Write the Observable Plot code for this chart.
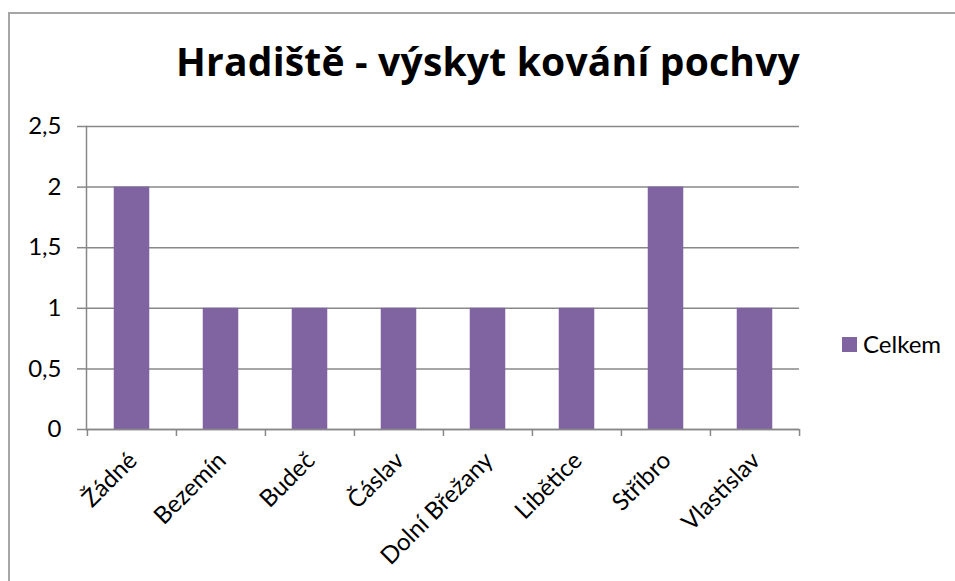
<!DOCTYPE html>
<html>
<head>
<meta charset="utf-8">
<script src="https://cdn.jsdelivr.net/npm/d3@7"></script>
<script src="https://cdn.jsdelivr.net/npm/@observablehq/plot@0.6"></script>
<style>
  html, body { margin: 0; padding: 0; background: #fff; }
  #wrap { position: relative; width: 955px; height: 581px; overflow: hidden; font-family: Lato, "Open Sans", sans-serif; }
  #border { position: absolute; left: 8px; top: 12px; right: -10px; bottom: -10px; border-left: 2px solid #a6a6a6; border-top: 2px solid #a6a6a6; }
  #title { position: absolute; left: 0; width: 976px; top: 41px; text-align: center; font-family: "Open Sans", sans-serif; font-size: 39px; font-weight: bold; line-height: 40px; color: #000; white-space: nowrap; letter-spacing: 0.2px; }
  #plot { position: absolute; left: 0; top: 0; }
  #legend { position: absolute; left: 842px; top: 331px; font-size: 24px; line-height: 26px; color: #000; display: flex; align-items: center; }
  #legend .sw { width: 15px; height: 15px; background: #8064A2; margin-right: 6px; }
</style>
</head>
<body>
<div id="wrap">
  <div id="border"></div>
  <div id="plot"></div>
  <div id="title"></div>
  <div id="legend"><span class="sw"></span><span id="legname"></span></div>
</div>
<script>
const title = "Hradiště - výskyt kování pochvy";
const seriesName = "Celkem";
const categories = ["Žádné", "Bezemín", "Budeč", "Čáslav", "Dolní Břežany", "Libětice", "Stříbro", "Vlastislav"];
const values = [2, 1, 1, 1, 1, 1, 2, 1];
const yTicks = [0, 0.5, 1, 1.5, 2, 2.5];

document.getElementById("title").textContent = title;
document.getElementById("legname").textContent = seriesName;

const data = categories.map((c, i) => ({ cat: c, value: values[i] }));

const W = 955, H = 581;
const mL = 86, mR = 156, mT = 126, mB = 152;
const bw = (W - mL - mR) / categories.length;
const gray = "#888888";
const fmt = d => String(d).replace(".", ",");

const chart = Plot.plot({
  width: W,
  height: H,
  marginLeft: mL,
  marginRight: mR,
  marginTop: mT,
  marginBottom: mB,
  style: { fontFamily: "Lato, 'Open Sans', sans-serif", fontSize: "24px", color: "#000", background: "transparent", overflow: "visible" },
  x: { domain: categories, padding: 0, label: null },
  y: { domain: [0, 2.5], label: null },
  marks: [
    Plot.gridY(yTicks, { stroke: gray, strokeOpacity: 1, strokeWidth: 1.5 }),
    Plot.axisY(yTicks, { tickSize: 9, tickPadding: 16, stroke: gray, strokeWidth: 1.5, tickFormat: fmt, fill: "#000", label: null }),
    Plot.barY(data, { x: "cat", y: "value", fill: "#8064A2", insetLeft: bw * 0.3, insetRight: bw * 0.3 }),
    Plot.frame({ anchor: "left", stroke: gray, strokeWidth: 1.5 }),
    Plot.ruleY([0], { stroke: gray, strokeWidth: 1.5 }),
    Plot.axisX({ tickSize: 7, dx: -bw / 2, text: null, stroke: gray, strokeWidth: 1.5, label: null }),
    Plot.axisX([categories[categories.length - 1]], { tickSize: 7, dx: bw / 2, text: null, stroke: gray, strokeWidth: 1.5, label: null }),
    Plot.axisX({ tickSize: 0, tickPadding: 27, tickRotate: -45, fill: "#000", label: null, dx: 1 })
  ]
});
document.getElementById("plot").appendChild(chart);
</script>
</body>
</html>
